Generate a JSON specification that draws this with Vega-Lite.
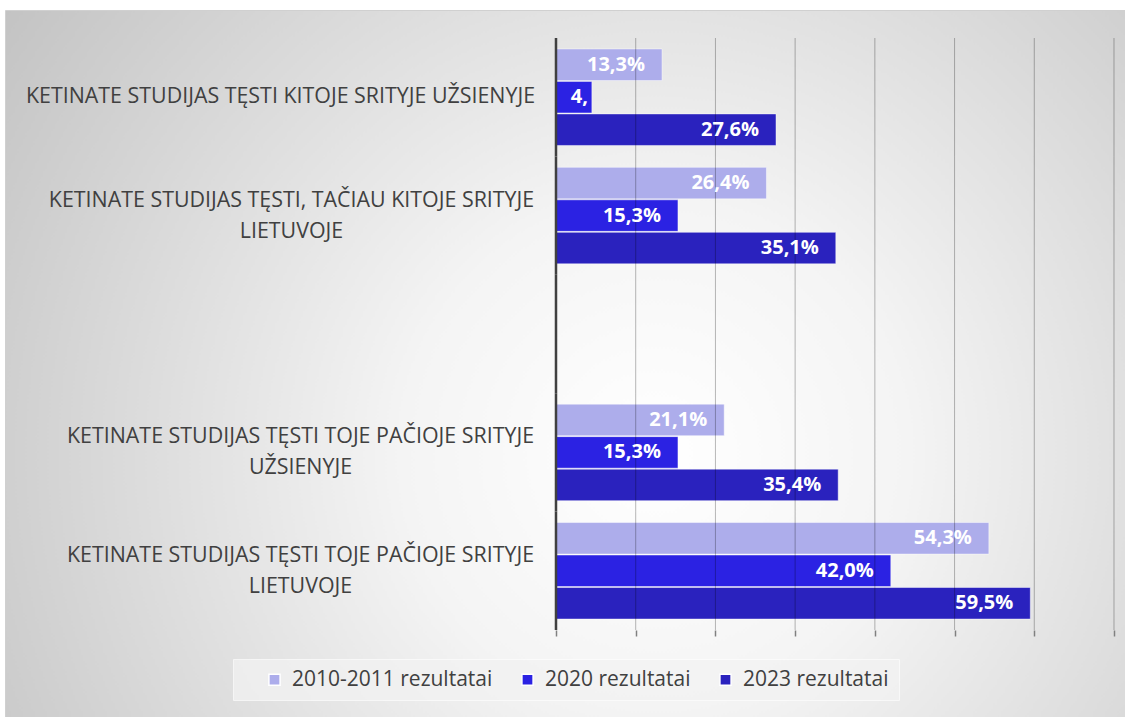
{
  "$schema": "https://vega.github.io/schema/vega-lite/v6.json",
  "autosize": {"type": "none"},
  "padding": {"left": 5, "top": 10, "right": 0, "bottom": 0},
  "width": 1120,
  "height": 707,
  "background": "white",
  "config": {
    "view": {
      "fill": {
        "gradient": "radial",
        "x1": 0.58, "y1": 0.58, "r1": 0,
        "x2": 0.58, "y2": 0.58, "r2": 0.75,
        "stops": [
          {"offset": 0, "color": "#FFFFFF"},
          {"offset": 0.3, "color": "#F4F4F4"},
          {"offset": 1, "color": "#BEBEBE"}
        ]
      },
      "stroke": "#D0D0D0"
    },
    "font": "Open Sans"
  },
  "datasets": {
    "bars": [
      {"cat": "c1", "series": "2010-2011 rezultatai", "v": 0.133, "label": "13,3%"},
      {"cat": "c1", "series": "2020 rezultatai", "v": 0.045, "label": "4,"},
      {"cat": "c1", "series": "2023 rezultatai", "v": 0.276, "label": "27,6%"},
      {"cat": "c2", "series": "2010-2011 rezultatai", "v": 0.264, "label": "26,4%"},
      {"cat": "c2", "series": "2020 rezultatai", "v": 0.153, "label": "15,3%"},
      {"cat": "c2", "series": "2023 rezultatai", "v": 0.351, "label": "35,1%"},
      {"cat": "c3", "series": "2010-2011 rezultatai", "v": 0.211, "label": "21,1%"},
      {"cat": "c3", "series": "2020 rezultatai", "v": 0.153, "label": "15,3%"},
      {"cat": "c3", "series": "2023 rezultatai", "v": 0.354, "label": "35,4%"},
      {"cat": "c4", "series": "2010-2011 rezultatai", "v": 0.543, "label": "54,3%"},
      {"cat": "c4", "series": "2020 rezultatai", "v": 0.420, "label": "42,0%"},
      {"cat": "c4", "series": "2023 rezultatai", "v": 0.595, "label": "59,5%"}
    ],
    "grid": [
      {"g": 0, "cats": ["c1", "c2", "gap", "c3", "c4"]},
      {"g": 0.1, "cats": ["c1", "c2", "gap", "c3", "c4"]},
      {"g": 0.2, "cats": ["c1", "c2", "gap", "c3", "c4"]},
      {"g": 0.3, "cats": ["c1", "c2", "gap", "c3", "c4"]},
      {"g": 0.4, "cats": ["c1", "c2", "gap", "c3", "c4"]},
      {"g": 0.5, "cats": ["c1", "c2", "gap", "c3", "c4"]},
      {"g": 0.6, "cats": ["c1", "c2", "gap", "c3", "c4"]},
      {"g": 0.7, "cats": ["c1", "c2", "gap", "c3", "c4"]}
    ]
  },
  "encoding": {
    "y": {
      "field": "cat",
      "type": "nominal",
      "scale": {
        "domain": ["c1", "c2", "gap", "c3", "c4"],
        "paddingInner": 0,
        "paddingOuter": 0.4857,
        "align": 0.2435
      },
      "axis": {
        "title": null,
        "orient": "left",
        "offset": -551,
        "domain": false,
        "ticks": false,
        "grid": false,
        "labelFont": "Open Sans",
        "labelFontSize": 21.4,
        "labelColor": "#404040",
        "labelAlign": "center",
        "labelBaseline": "middle",
        "labelLineHeight": 31,
        "labelLimit": 800,
        "labelPadding": {
          "condition": [
            {"test": "datum.value === 'c1'", "value": 276},
            {"test": "datum.value === 'c2'", "value": 265}
          ],
          "value": 256
        },
        "labelOffset": {
          "condition": {"test": "datum.value === 'c1'", "value": 0},
          "value": -15
        },
        "labelExpr": "datum.value === 'c1' ? 'KETINATE STUDIJAS TĘSTI KITOJE SRITYJE UŽSIENYJE' : datum.value === 'c2' ? ['KETINATE STUDIJAS TĘSTI, TAČIAU KITOJE SRITYJE', 'LIETUVOJE'] : datum.value === 'c3' ? ['KETINATE STUDIJAS TĘSTI TOJE PAČIOJE SRITYJE', 'UŽSIENYJE'] : datum.value === 'c4' ? ['KETINATE STUDIJAS TĘSTI TOJE PAČIOJE SRITYJE', 'LIETUVOJE'] : ''"
      }
    }
  },
  "layer": [
    {
      "data": {"name": "bars"},
      "mark": {"type": "bar", "stroke": "#FFFFFF", "strokeOpacity": 0.45, "strokeWidth": 1},
      "encoding": {
        "x": {
          "field": "v",
          "type": "quantitative",
          "scale": {"domain": [-0.6912, 0.7138], "nice": false, "zero": false},
          "axis": {
            "title": null,
            "orient": "bottom",
            "offset": -87,
            "values": [0, 0.1, 0.2, 0.3, 0.4, 0.5, 0.6, 0.7],
            "labels": false,
            "domain": false,
            "grid": false,
            "ticks": true,
            "tickSize": 6,
            "tickColor": "#808080",
            "tickWidth": 1.5
          }
        },
        "x2": {"datum": 0},
        "yOffset": {
          "field": "series",
          "type": "nominal",
          "scale": {
            "domain": ["2010-2011 rezultatai", "2020 rezultatai", "2023 rezultatai"],
            "paddingInner": 0.03,
            "paddingOuter": 0.337
          }
        },
        "color": {
          "field": "series",
          "type": "nominal",
          "scale": {
            "domain": ["2010-2011 rezultatai", "2020 rezultatai", "2023 rezultatai"],
            "range": ["#ADADEB", "#2B22E3", "#2A22BE"]
          },
          "legend": {
            "title": null,
            "orient": "none",
            "direction": "horizontal",
            "legendX": 228,
            "legendY": 649,
            "fillColor": "rgba(242,242,242,0.75)",
            "strokeColor": "rgba(255,255,255,0.6)",
            "padding": 10,
            "symbolType": "square",
            "symbolSize": 125,
            "symbolOffset": 21,
            "columnPadding": 3,
            "labelOffset": 7,
            "labelFont": "Open Sans",
            "labelFontSize": 21,
            "labelColor": "#404040",
            "labelLimit": 400
          }
        }
      }
    },
    {
      "data": {"name": "grid"},
      "transform": [{"flatten": ["cats"]}],
      "mark": {"type": "rect"},
      "encoding": {
        "x": {"field": "g", "type": "quantitative"},
        "x2": {"field": "g"},
        "y": {"field": "cats", "type": "nominal"},
        "stroke": {
          "condition": {"test": "datum.g === 0", "value": "#404040"},
          "value": "#000000"
        },
        "strokeOpacity": {
          "condition": {"test": "datum.g === 0", "value": 1},
          "value": 0.15
        },
        "strokeWidth": {
          "condition": {"test": "datum.g === 0", "value": 2.5},
          "value": 1
        }
      }
    },
    {
      "data": {"name": "bars"},
      "mark": {
        "type": "text",
        "align": "right",
        "baseline": "middle",
        "dx": {"expr": "datum.label === '4,' ? -4 : -17"},
        "color": "#FFFFFF",
        "font": "Open Sans",
        "fontWeight": "bold",
        "fontSize": 20
      },
      "encoding": {
        "x": {"field": "v", "type": "quantitative"},
        "yOffset": {"field": "series", "type": "nominal"},
        "text": {"field": "label"}
      }
    }
  ]
}
